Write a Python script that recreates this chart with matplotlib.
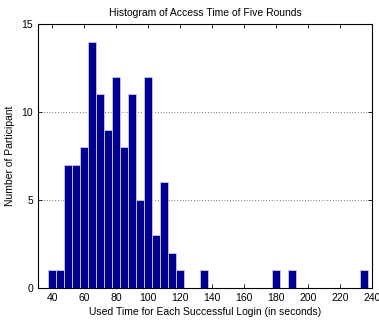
import matplotlib
matplotlib.use("Agg")
import matplotlib.pyplot as plt

# bin centers (seconds) and counts per bin
bin_centers = [40, 45, 50, 55, 60, 65, 70, 75, 80, 85, 90, 95, 100, 105, 110, 115, 120,
               135, 180, 190, 235]
counts = [1, 1, 7, 7, 8, 14, 11, 9, 12, 8, 11, 5, 12, 3, 6, 2, 1,
          1, 1, 1, 1]
x_ticks = [40, 60, 80, 100, 120, 140, 160, 180, 200, 220, 240]
y_ticks = [0, 5, 10, 15]

plt.rcParams['font.family'] = ['Liberation Sans', 'DejaVu Sans']

fig = plt.figure(figsize=(3.79, 3.2), dpi=100)
ax = fig.add_axes([0.100, 0.100, 0.882, 0.825])

ax.bar(bin_centers, counts, width=4.9, color='#000090', edgecolor='#c8c8f0',
       linewidth=0.6, zorder=2)

ax.set_xlim(31, 240)
ax.set_ylim(0, 15)
ax.set_xticks(x_ticks)
ax.set_yticks(y_ticks)
ax.yaxis.grid(True, linestyle=(0, (1, 3)), color='black', linewidth=0.5)
ax.tick_params(direction='in', top=True, right=True, labelsize=7.5, length=3, width=0.6)
for s in ax.spines.values():
    s.set_linewidth(0.8)

ax.set_title('Histogram of Access Time of Five Rounds', fontsize=7.5, pad=6)
ax.set_xlabel('Used Time for Each Successful Login (in seconds)', fontsize=7.5, labelpad=3)
ax.set_ylabel('Number of Participant', fontsize=7.5)
ax.yaxis.set_label_coords(-0.068, 0.5)

fig.savefig('out.png', dpi=100)
